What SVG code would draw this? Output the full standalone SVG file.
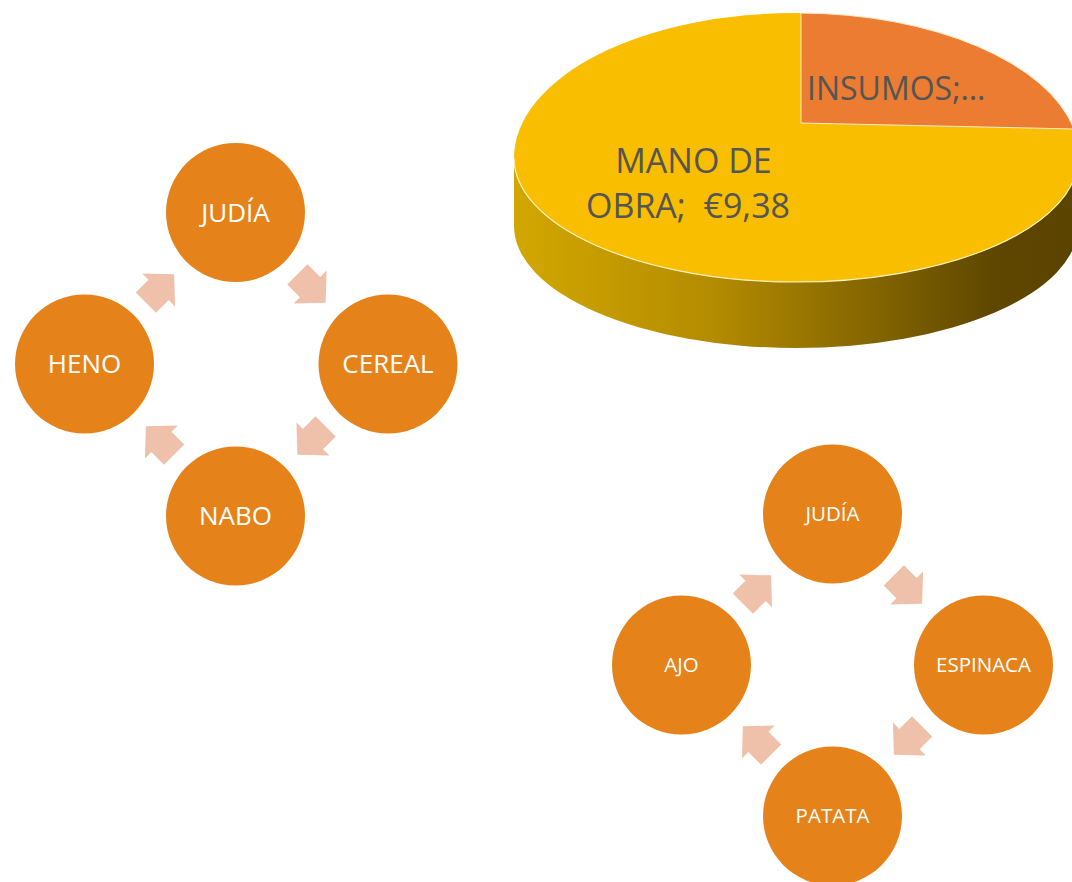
<svg xmlns="http://www.w3.org/2000/svg" width="1072" height="882" viewBox="0 0 1072 882">
  <style>
    .node { fill: #E5831A; }
    .lbl { font-family: "Open Sans", "Noto Sans", "DejaVu Sans", sans-serif; fill: #FFFFFF; text-anchor: middle; }
    .big { font-size: 26px; }
    .small { font-size: 20.5px; }
    .arrow { fill: #F0C1AA; }
    .pielbl { font-family: "Open Sans", "Noto Sans", "DejaVu Sans", sans-serif; fill: #555555; white-space: pre; }
  </style>
  <defs>
    <path id="arr" d="M-20,-14.3 L-2,-14.3 L-2,-23.3 L20,0 L-2,23.3 L-2,14.3 L-20,14.3 Z"/>
    <linearGradient id="side" x1="514" y1="0" x2="1078" y2="0" gradientUnits="userSpaceOnUse">
      <stop offset="0" stop-color="#D2A700"/>
      <stop offset="0.35" stop-color="#B48C00"/>
      <stop offset="0.6" stop-color="#8A6A00"/>
      <stop offset="0.85" stop-color="#5F4700"/>
      <stop offset="1" stop-color="#5A4300"/>
    </linearGradient>
    <clipPath id="vp"><rect x="0" y="0" width="1072" height="882"/></clipPath>
  </defs>
  <rect x="0" y="0" width="1072" height="882" fill="#FFFFFF"/>

  <g id="pie" clip-path="url(#vp)">
    <path d="M514,158 L514,226 A282,122 0 0 0 1078,226 L1078,158 A282,124 0 0 1 514,158 Z" fill="url(#side)"/>
    <path id="slice-mano" d="M514,158 A282,145 0 0 1 801,13 L801,123 L1074,129 A282,145 0 0 1 1078,158 A282,124 0 0 1 514,158 Z" fill="#FABE00"/>
    <path d="M514,158 A282,124 0 0 0 1078,158" fill="none" stroke="#FFF1C0" stroke-width="1.2"/>
    <path id="slice-insumos" d="M801,123 L801,13 A282,145 0 0 1 1074,129 Z" fill="#EB7C31" stroke="#FFE9C8" stroke-width="1"/>
    <text class="pielbl" x="807" y="100" font-size="32">INSUMOS;…</text>
    <text class="pielbl" x="693.5" y="173" font-size="34" text-anchor="middle">MANO DE</text>
    <text class="pielbl" x="688" y="218" font-size="34" text-anchor="middle">OBRA;  €9,38</text>
  </g>

  <g id="connectors">
    <use href="#arr" class="arrow" transform="translate(311.5,288.5) rotate(45)"/>
    <use href="#arr" class="arrow" transform="translate(311.5,440.5) rotate(135)"/>
    <use href="#arr" class="arrow" transform="translate(160,440.5) rotate(225)"/>
    <use href="#arr" class="arrow" transform="translate(160,288.5) rotate(-45)"/>
    <use href="#arr" class="arrow" transform="translate(908,589.5) rotate(45)"/>
    <use href="#arr" class="arrow" transform="translate(908,740.5) rotate(135)"/>
    <use href="#arr" class="arrow" transform="translate(757,740.5) rotate(225)"/>
    <use href="#arr" class="arrow" transform="translate(757,589.5) rotate(-45)"/>
  </g>

  <g id="n-judia1"><circle class="node" cx="235.5" cy="212.5" r="69.5"/><text class="lbl big" x="235.5" y="221.8">JUDÍA</text></g>
  <g id="n-cereal"><circle class="node" cx="388" cy="364" r="69.5"/><text class="lbl big" x="388" y="373.3">CEREAL</text></g>
  <g id="n-nabo"><circle class="node" cx="235.5" cy="516" r="69.5"/><text class="lbl big" x="235.5" y="525.3">NABO</text></g>
  <g id="n-heno"><circle class="node" cx="84.5" cy="364" r="69.5"/><text class="lbl big" x="84.5" y="373.3">HENO</text></g>

  <g id="n-judia2"><circle class="node" cx="832.5" cy="514" r="69.5"/><text class="lbl small" x="832.5" y="521.4">JUDÍA</text></g>
  <g id="n-espinaca"><circle class="node" cx="983.5" cy="665" r="69.5"/><text class="lbl small" x="983.5" y="672.4">ESPINACA</text></g>
  <g id="n-patata"><circle class="node" cx="832.5" cy="816" r="69.5"/><text class="lbl small" x="832.5" y="823.4">PATATA</text></g>
  <g id="n-ajo"><circle class="node" cx="681.5" cy="665" r="69.5"/><text class="lbl small" x="681.5" y="672.4">AJO</text></g>
</svg>
